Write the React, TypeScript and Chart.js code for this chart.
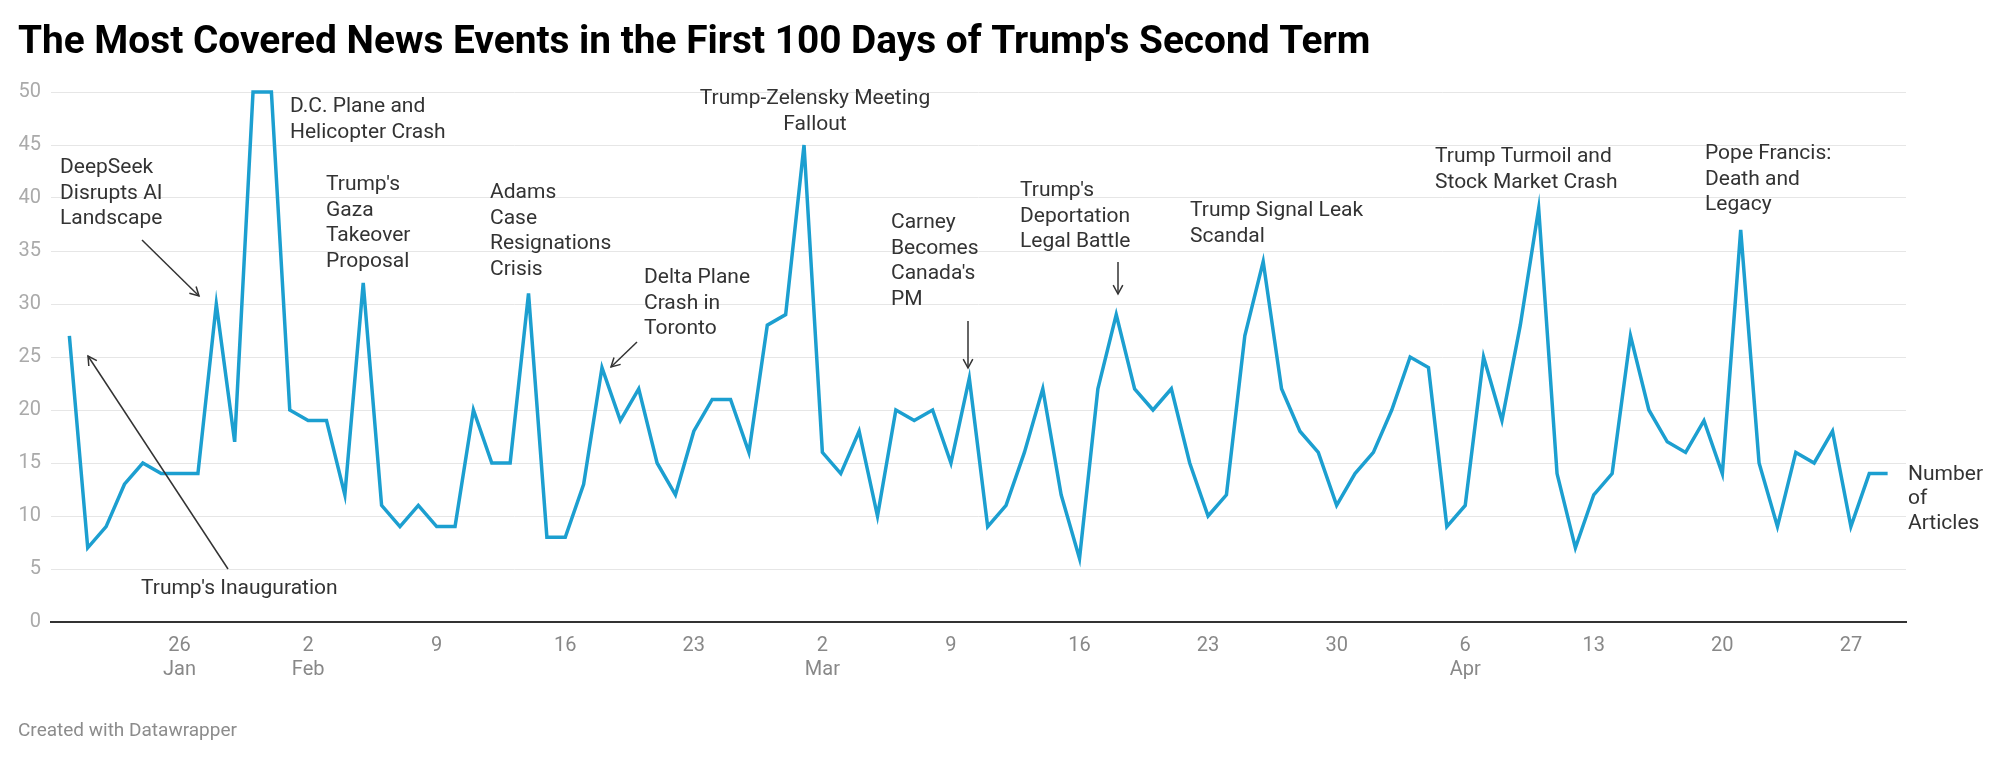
import React, { useEffect, useRef } from "react";
import { Chart, registerables } from "chart.js";

Chart.register(...registerables);

// ---- Data (Jan 20 – Apr 29, 2025, one value per day) ----
const firstDay = "2025-01-20";
const articleCounts = [
  // Jan 20–31
  27, 7, 9, 13, 15, 14, 14, 14, 30, 17, 50, 50,
  // Feb 1–28
  20, 19, 19, 12, 32, 11, 9, 11, 9, 9,
  20, 15, 15, 31, 8, 8, 13, 24, 19, 22,
  15, 12, 18, 21, 21, 16, 28, 29,
  // Mar 1–31
  45, 16, 14, 18, 10, 20, 19, 20, 15, 23,
  9, 11, 16, 22, 12, 6, 22, 29, 22, 20,
  22, 15, 10, 12, 27, 34, 22, 18, 16, 11, 14,
  // Apr 1–29
  16, 20, 25, 24, 9, 11, 25, 19, 28, 39,
  14, 7, 12, 14, 27, 20, 17, 16, 19, 14,
  37, 15, 9, 16, 15, 18, 9, 14, 14,
];
const seriesName = ["Number", "of", "Articles"];

// x tick positions (day index from Jan 20) and their labels
const tickDayIndex = [6, 13, 20, 27, 34, 41, 48, 55, 62, 69, 76, 83, 90, 97];
const tickLabels: (string | string[])[] = [
  ["26", "Jan"], ["2", "Feb"], "9", "16", "23",
  ["2", "Mar"], "9", "16", "23", "30",
  ["6", "Apr"], "13", "20", "27",
];
const yTicks = [0, 5, 10, 15, 20, 25, 30, 35, 40, 45, 50];

const titleText = "The Most Covered News Events in the First 100 Days of Trump's Second Term";
const footerText = "Created with Datawrapper";

// ---- Annotation layout (text blocks and arrows, in canvas pixels) ----
const annotations = [
  { lines: ["DeepSeek", "Disrupts AI", "Landscape"], x: 60, y: 168, align: "left" },
  { lines: ["Trump's Inauguration"], x: 141, y: 589, align: "left" },
  { lines: ["D.C. Plane and", "Helicopter Crash"], x: 290, y: 107, align: "left" },
  { lines: ["Trump's", "Gaza", "Takeover", "Proposal"], x: 326, y: 185, align: "left" },
  { lines: ["Adams", "Case", "Resignations", "Crisis"], x: 490, y: 193, align: "left" },
  { lines: ["Delta Plane", "Crash in", "Toronto"], x: 644, y: 278, align: "left" },
  { lines: ["Trump-Zelensky Meeting", "Fallout"], x: 815, y: 99, align: "center" },
  { lines: ["Carney", "Becomes", "Canada's", "PM"], x: 891, y: 223, align: "left" },
  { lines: ["Trump's", "Deportation", "Legal Battle"], x: 1020, y: 191, align: "left" },
  { lines: ["Trump Signal Leak", "Scandal"], x: 1190, y: 211, align: "left" },
  { lines: ["Trump Turmoil and", "Stock Market Crash"], x: 1435, y: 157, align: "left" },
  { lines: ["Pope Francis:", "Death and", "Legacy"], x: 1705, y: 154, align: "left" },
];
const arrows = [
  { from: [142, 240], to: [199, 296] },
  { from: [228, 569], to: [88, 356] },
  { from: [637, 342], to: [611, 367] },
  { from: [968, 321], to: [968, 368] },
  { from: [1118, 262], to: [1118, 294] },
];

const FONT = "Roboto, 'Noto Sans', sans-serif";
const LINE_COLOR = "#1c9fd0";

const overlayPlugin = {
  id: "overlay",
  afterDraw(chart: any) {
    const ctx = chart.ctx as CanvasRenderingContext2D;
    const ys = chart.scales.y;
    ctx.save();

    // Title
    ctx.fillStyle = "#000";
    ctx.font = `bold 38.8px ${FONT}`;
    ctx.textAlign = "left";
    ctx.textBaseline = "alphabetic";
    ctx.fillText(titleText, 18, 53);

    // Footer
    ctx.fillStyle = "#8c8c8c";
    ctx.font = `19px ${FONT}`;
    ctx.textBaseline = "middle";
    ctx.fillText(footerText, 18, 731);

    // Annotations
    ctx.fillStyle = "#333";
    ctx.font = `21px ${FONT}`;
    ctx.textBaseline = "middle";
    for (const a of annotations) {
      ctx.textAlign = a.align as CanvasTextAlign;
      a.lines.forEach((ln, i) => ctx.fillText(ln, a.x, a.y + i * 25.5));
    }

    // Arrows
    ctx.strokeStyle = "#333";
    ctx.lineWidth = 1.5;
    for (const ar of arrows) {
      const [x1, y1] = ar.from;
      const [x2, y2] = ar.to;
      ctx.beginPath();
      ctx.moveTo(x1, y1);
      ctx.lineTo(x2, y2);
      ctx.stroke();
      const ang = Math.atan2(y2 - y1, x2 - x1);
      const hl = 10;
      ctx.beginPath();
      ctx.moveTo(x2 - hl * Math.cos(ang - 0.5), y2 - hl * Math.sin(ang - 0.5));
      ctx.lineTo(x2, y2);
      ctx.lineTo(x2 - hl * Math.cos(ang + 0.5), y2 - hl * Math.sin(ang + 0.5));
      ctx.stroke();
    }

    // Series label at end of line
    const lastIdx = articleCounts.length - 1;
    const ly = ys.getPixelForValue(articleCounts[lastIdx]);
    const lx = chart.chartArea.right;
    ctx.fillStyle = "#333";
    ctx.font = `21px ${FONT}`;
    ctx.textAlign = "left";
    ctx.textBaseline = "middle";
    seriesName.forEach((ln, i) => ctx.fillText(ln, lx + 2, ly + 1 + i * 24.5));
    ctx.restore();
  },
};

export default function App() {
  const canvasRef = useRef<HTMLCanvasElement | null>(null);

  useEffect(() => {
    const canvas = canvasRef.current;
    if (!canvas) return;
    const points = articleCounts.map((v, i) => ({ x: i, y: v }));
    const chart = new Chart(canvas, {
      type: "line",
      data: {
        datasets: [
          {
            label: seriesName.join(" "),
            data: points,
            borderColor: LINE_COLOR,
            borderWidth: 3.5,
            pointRadius: 0,
            tension: 0,
            fill: false,
            clip: false as any,
          },
        ],
      },
      options: {
        animation: false,
        responsive: false,
        maintainAspectRatio: false,
        devicePixelRatio: 1,
        layout: { padding: { left: 0, top: 92, right: 93, bottom: 0 } },
        plugins: { legend: { display: false }, tooltip: { enabled: false }, title: { display: false } },
        scales: {
          x: {
            type: "linear",
            min: -1,
            max: articleCounts.length,
            grid: { display: false, drawTicks: false },
            border: { display: true, color: "#333", width: 2 },
            afterBuildTicks: (scale: any) => {
              scale.ticks = tickDayIndex.map((v) => ({ value: v }));
            },
            afterFit: (scale: any) => {
              scale.height = 139;
            },
            ticks: {
              autoSkip: false,
              maxRotation: 0,
              color: "#888",
              padding: 12,
              font: { family: FONT, size: 20 },
              callback: (v: any) => {
                const k = tickDayIndex.indexOf(Number(v));
                return k >= 0 ? tickLabels[k] : "";
              },
            },
          },
          y: {
            min: 0,
            max: 50,
            afterBuildTicks: (scale: any) => {
              scale.ticks = yTicks.map((v) => ({ value: v }));
            },
            afterFit: (scale: any) => {
              scale.width = 51;
            },
            grid: {
              drawTicks: false,
              color: (c: any) => (c.tick && c.tick.value === 0 ? "#333" : "#e6e6e6"),
              lineWidth: (c: any) => (c.tick && c.tick.value === 0 ? 2 : 1),
            },
            border: { display: false },
            ticks: {
              color: "#aaa",
              padding: 10,
              font: { family: FONT, size: 20 },
            },
          },
        },
      },
      plugins: [overlayPlugin],
    });
    return () => chart.destroy();
  }, []);

  return (
    <div
      style={{ position: "absolute", left: 0, top: 0, width: 1999, height: 761, background: "#fff" }}
      data-first-day={firstDay}
    >
      <canvas ref={canvasRef} width={1999} height={761} style={{ width: 1999, height: 761, display: "block" }} />
    </div>
  );
}
